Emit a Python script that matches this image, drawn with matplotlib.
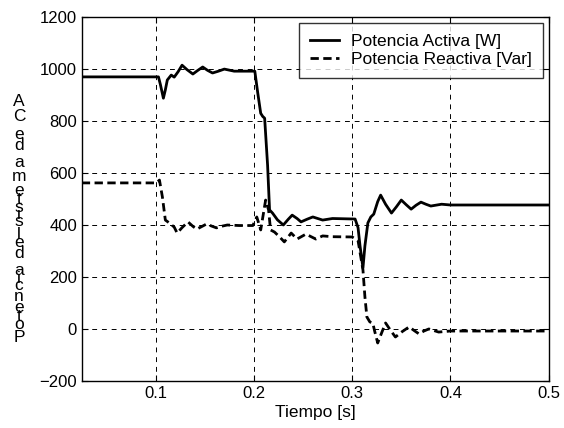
import matplotlib
matplotlib.use('Agg')
import matplotlib.pyplot as plt

plt.rcParams['font.family'] = ['Liberation Sans', 'DejaVu Sans']

# Potencia activa (linea continua)
t_p = [0.025, 0.103, 0.105, 0.108, 0.110, 0.112, 0.116, 0.119, 0.123, 0.127,
       0.132, 0.138, 0.143, 0.148, 0.153, 0.158, 0.164, 0.170, 0.180, 0.201,
       0.204, 0.207, 0.209, 0.211, 0.214, 0.216, 0.219, 0.224, 0.230, 0.235,
       0.239, 0.244, 0.248, 0.254, 0.260, 0.265, 0.270, 0.280, 0.303, 0.306,
       0.308, 0.311, 0.313, 0.316, 0.319, 0.322, 0.326, 0.329, 0.334, 0.340,
       0.345, 0.350, 0.355, 0.360, 0.365, 0.370, 0.375, 0.380, 0.391, 0.40, 0.5]
p = [970, 970, 940, 888, 920, 958, 977, 969, 990, 1015,
     998, 981, 995, 1008, 995, 985, 992, 1000, 992, 992,
     908, 830, 818, 811, 630, 458, 446, 420, 400, 422,
     438, 425, 412, 422, 431, 425, 419, 425, 423, 390,
     320, 235, 320, 408, 431, 442, 490, 515, 480, 446,
     470, 496, 478, 461, 476, 488, 480, 473, 480, 477, 477]

# Potencia reactiva (linea discontinua)
t_q = [0.025, 0.101, 0.104, 0.107, 0.110, 0.114, 0.119, 0.122, 0.127, 0.133,
       0.138, 0.142, 0.147, 0.152, 0.157, 0.162, 0.167, 0.173, 0.185, 0.199,
       0.203, 0.207, 0.212, 0.215, 0.217, 0.221, 0.226, 0.231, 0.238, 0.244,
       0.253, 0.263, 0.270, 0.280, 0.300, 0.306, 0.311, 0.313, 0.315, 0.318,
       0.321, 0.323, 0.326, 0.330, 0.334, 0.339, 0.344, 0.351, 0.358, 0.363,
       0.368, 0.373, 0.378, 0.388, 0.40, 0.5]
q = [562, 562, 573, 508, 419, 408, 392, 369, 390, 412,
     395, 384, 394, 404, 396, 389, 395, 400, 398, 398,
     431, 381, 496, 458, 381, 373, 355, 335, 369, 346,
     365, 346, 358, 355, 354, 340, 227, 123, 46, 27,
     23, -10, -54, -15, 23, -5, -31, -10, 8, -6,
     -19, -8, 0, -12, -8, -8]

xticks = [0.1, 0.2, 0.3, 0.4, 0.5]
yticks = [-200, 0, 200, 400, 600, 800, 1000, 1200]
ylabel = 'Potencia del sistema de CA'

fig = plt.figure(figsize=(5.64, 4.28), dpi=100)
ax = fig.add_axes([0.145, 0.110, 0.828, 0.850])

ax.plot(t_p, p, color='black', linewidth=2.0, label='Potencia Activa [W]')
ax.plot(t_q, q, color='black', linewidth=2.0, linestyle=(0, (3.0, 1.6)),
        label='Potencia Reactiva [Var]')

ax.set_xlim(0.025, 0.5)
ax.set_ylim(-200, 1200)
ax.set_xticks(xticks)
ax.set_xticklabels([str(x) for x in xticks])
ax.set_yticks(yticks)
ax.tick_params(direction='in', top=True, right=True, labelsize=12, length=4)
ax.grid(True, color='black', linestyle=(0, (5, 5)), linewidth=0.7)
for s in ax.spines.values():
    s.set_linewidth(1.0)

ax.set_xlabel('Tiempo [s]', fontsize=12.5, labelpad=3)

leg = ax.legend(loc='upper right', fontsize=12.5, frameon=True, fancybox=False,
                edgecolor='black', borderpad=0.6, handlelength=1.7,
                handletextpad=0.7, labelspacing=0.2, borderaxespad=0.35)
leg.get_frame().set_linewidth(1.0)

# etiqueta del eje y con letras apiladas (como en el original)
widths = {'P': .667, 'o': .556, 't': .278, 'e': .556, 'n': .556, 'c': .5,
          'i': .222, 'a': .556, ' ': .278, 'd': .556, 'l': .222, 's': .5,
          'm': .833, 'C': .722, 'A': .667}
W, H = fig.get_size_inches() * fig.dpi
y_bottom, y_top = 337.0, 102.0  # centros de la primera y ultima letra (px)
total = sum(widths[c] for c in ylabel) - widths[ylabel[0]] / 2 - widths[ylabel[-1]] / 2
scale = (y_bottom - y_top) / total
pos = 0.0
for i, c in enumerate(ylabel):
    if i > 0:
        pos += widths[ylabel[i - 1]] / 2 + widths[c] / 2
    ypx = y_bottom - pos * scale
    fig.text(19 / W, 1 - ypx / H, c, ha='center', va='center', fontsize=12.5)

fig.savefig('out.png', dpi=100)
